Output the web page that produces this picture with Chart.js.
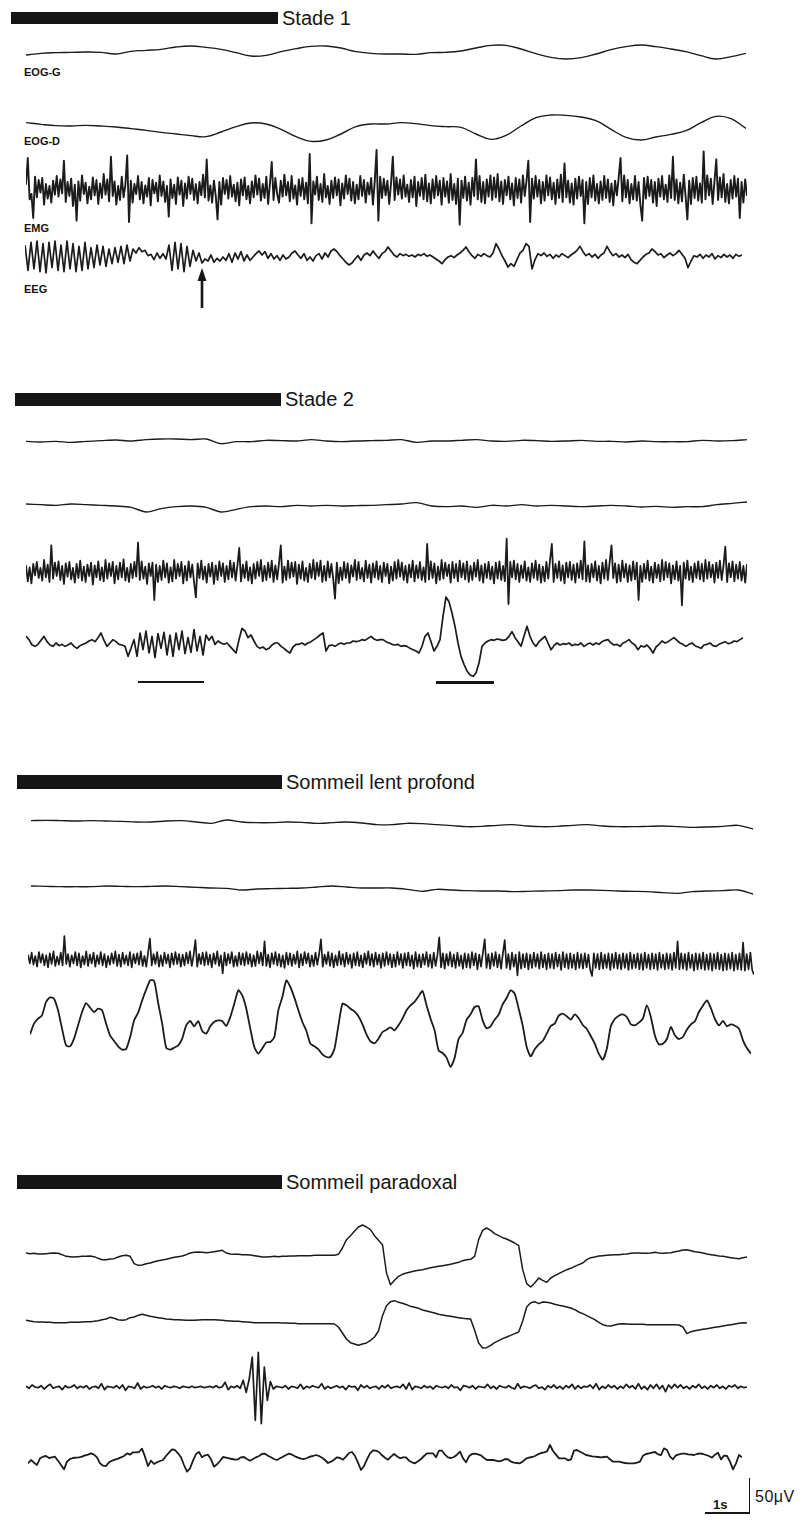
<!DOCTYPE html>
<html>
<head>
<meta charset="utf-8">
<script src="https://cdn.jsdelivr.net/npm/chart.js"></script>
<style>
  body { margin: 0; background: #fff; }
  #page { position: relative; width: 805px; height: 1521px; overflow: hidden;
          font-family: "Liberation Sans", Arial, sans-serif; color: #151515; }
  .bar { position: absolute; background: #151515; }
  .title { position: absolute; font-size: 20px; line-height: 20px; white-space: nowrap; }
  .lab { position: absolute; font-size: 11px; line-height: 11px; font-weight: bold; }
  .rule { position: absolute; background: #151515; }
  canvas { position: absolute; }
</style>
</head>
<body>
<div id="page">
  <div class="bar" style="left:11px;top:12px;width:267px;height:12px"></div>
  <div class="title" style="left:282px;top:8px">Stade 1</div>
  <div class="lab" style="left:24px;top:67px">EOG-G</div>
  <div class="lab" style="left:24px;top:136px">EOG-D</div>
  <div class="lab" style="left:24px;top:223px">EMG</div>
  <div class="lab" style="left:24px;top:284px">EEG</div>
  <svg style="position:absolute;left:195px;top:268px" width="14" height="42">
    <polygon points="7,0 2.5,13 11.5,13" fill="#151515"/>
    <rect x="5.7" y="11" width="2.6" height="29" fill="#151515"/>
  </svg>

  <div class="bar" style="left:15px;top:393px;width:266px;height:13px"></div>
  <div class="title" style="left:285px;top:389px">Stade 2</div>
  <div class="rule" style="left:138px;top:681px;width:66px;height:2px"></div>
  <div class="rule" style="left:436px;top:681px;width:58px;height:2.5px"></div>

  <div class="bar" style="left:17px;top:775px;width:265px;height:14px"></div>
  <div class="title" style="left:286px;top:772px">Sommeil lent profond</div>

  <div class="bar" style="left:17px;top:1175px;width:265px;height:14px"></div>
  <div class="title" style="left:286px;top:1172px">Sommeil paradoxal</div>

  <div class="rule" style="left:705px;top:1512px;width:45px;height:1.5px"></div>
  <div class="rule" style="left:748.5px;top:1478px;width:1.5px;height:35px"></div>
  <div class="lab" style="left:713px;top:1498px;font-size:13px;line-height:13px">1s</div>
  <div class="title" style="left:755px;top:1489px;font-size:16px;line-height:16px;letter-spacing:0.5px">50μV</div>
</div>

<script>
// traces, values in µV (positive up), sampled evenly along each 18 s strip

// Stade 1
var stade1EogG = [-4.5,-2,-1,-0.5,0,-0.5,-3,1,2.5,4,7.5,9,7,4,-1,-6,-5,0.5,5,8.5,
  9,6,0.5,-2,-3,-3,-3.5,-1,-0.5,1.5,6,10,10,4.5,-2.5,-8,-10.5,-8.5,-3,3.5,
  8,10.5,8,4.5,0.5,-5.5,-10.5,-7,-2];
var stade1EogD = [8,5.5,3.5,3,4,3,1.5,-1,-3.5,-6.5,-9,-11.5,-13,-6,2,7.5,6,-2,-13,-20,
  -18,-9,2,6,6,8,6.5,3.5,2,1,-9,-17,-11,3,15.5,19.5,19,16.5,11,-2,
  -14,-18,-13.5,-9.5,-4,8,17.5,14,-0.5];
var stade1Emg = [
  8,48,-14,-6,-42,20,-11,15,-4,18,-22,9,-13,6,-19,14,-7,21,-10,16,
  -5,44,-18,12,-9,17,-24,8,-46,13,-16,22,-6,11,-20,5,-14,19,-8,15,
  -21,10,-12,24,-7,16,-17,50,-9,13,-22,6,-15,20,-11,8,52,-48,14,-19,
  9,-6,21,-14,12,-20,7,-10,18,-23,15,-5,11,-17,22,-9,13,-18,6,-40,
  16,-12,8,-21,19,-7,14,-24,10,-13,20,-6,17,-15,9,-20,12,-8,23,-11,
  46,-16,7,-19,14,-9,-44,12,-22,18,-6,15,-13,21,-10,8,-17,11,-23,16,
  -8,19,-14,6,-20,13,-11,22,-7,17,-16,9,-12,20,-21,10,42,-15,18,-6,
  -19,14,-10,23,-8,12,-17,21,-13,7,-22,16,-9,18,-14,11,-20,54,-50,13,
  -7,20,-15,9,-18,24,-11,6,-21,14,-12,19,-8,16,-23,10,-13,22,-6,17,
  -16,12,-20,8,-14,21,-9,15,-19,11,-7,18,-22,13,60,-46,20,-12,17,-8,
  14,-21,10,50,-15,19,-7,16,-13,22,-10,8,-18,15,-11,20,-24,12,-9,18,
  -14,23,-17,10,-20,16,-12,21,-8,14,-22,18,-10,13,-19,24,-15,9,-21,17,
  -52,14,-12,20,-16,11,-22,18,-9,46,-14,21,-18,12,-20,16,-10,22,-15,19,
  -11,24,-17,13,-21,15,-8,20,-14,10,-23,18,-12,16,-19,22,-9,14,44,-48,
  17,-13,21,-10,15,-20,12,-16,22,-8,19,-14,11,-21,16,-12,23,-18,40,-11,
  14,-19,10,-22,17,-13,20,-9,15,-50,12,-21,18,-11,22,-16,9,-20,13,-15,
  21,-12,16,-18,10,-23,14,-8,19,48,-17,22,-11,15,-20,9,-14,21,-16,12,
  -22,-46,18,-13,20,-9,15,-19,12,-24,17,-10,21,-14,8,-18,22,-12,50,-15,
  16,-20,11,-17,23,-9,-44,14,-21,18,-12,20,-16,10,-19,58,-14,22,-8,17,
  -21,13,46,-15,19,-11,24,-18,9,-20,15,-13,21,-10,17,-42,12,-19,16,-9];
var stade1Eeg = [
  18,-20,22,-18,24,-22,20,-24,22,-16,24,-20,18,-22,24,-18,20,-22,16,-20,
  22,-18,14,-16,18,-12,16,-14,12,-10,14,-8,16,-10,18,-6,12,6,14,8,
  10,2,4,-4,6,-2,5,-3,18,-20,22,-18,20,-22,16,-14,10,-6,
  6,-9,-3,-6,3,-8,-2,-6,
  0,-5,5,-8,6,-3,8,-6,3,-5, 0,5,9,3,8,-2,5,-3,2,-5,
  3,-3,0,6,9,3,-2,5,-5,0, -6,2,5,-3,6,0,9,12,8,2,
  -3,-8,-12,-9,-3,2,-5,3,6,2, 9,3,-2,5,8,15,9,3,0,5,
  2,4,1,3,0,4,2,5,1,3, 0,-3,-6,-10,-4,0,2,-1,3,6,
  10,15,8,2,-2,4,1,5,2,0, 6,20,12,2,-6,-15,-10,-14,-4,6,
  10,20,16,-18,-4,5,2,6,1,4, -2,3,0,5,2,-1,3,6,10,16,
  8,2,5,0,4,-2,3,6,16,8, 2,5,0,3,-1,4,-4,-8,-10,-5,
  0,4,6,12,8,3,5,-1,3,6, 2,5,10,4,-2,-16,-6,2,0,4,
  -2,3,0,5,-3,2,-1,4,0,3,-2,4,1,3];

// Stade 2
var stade2EogG = [-0.5,-1.5,-0.5,-2,-0.5,0.5,1.5,0,2,3,3,2,3,-4,-1,-1,1,0.5,0,2,
  0,-1,0,0.5,1,2,-2,0,0,1,2,0,-0.5,1,0.5,-0.5,0,1,-0.5,-0.5,
  -1.5,0,-1,-1,-1,1,0,0.5,2];
var stade2EogD = [3,2,1,3,2,1,0,-2,-9,-4,-1,0,-2,-9,-5,-1,0,-1,1,0,
  1,0,0.5,1,2,3,5,0,-1,0,-2,1,0,2,0,1,0,-1,0,1,
  0,-1.5,-0.5,-2,-1,-1,2,4,6];
var stade2Emg = [
  10,-14,7,-17,12,-5,15,-9,6,-13,18,-8,11,-15,40,-10,14,-6,16,-12,
  9,-18,13,-7,15,-11,6,-16,12,-9,17,-13,8,-15,11,-6,14,-19,10,-8,
  16,-12,7,-14,18,-10,13,-6,15,-17,9,-11,14,-8,19,-13,6,-15,12,-9,
  15,-7,44,-12,16,-10,8,-18,13,-6,14,-42,11,-15,9,-12,17,-8,13,-16,
  7,-14,18,-10,12,-6,15,-17,9,-13,16,-8,11,-15,-38,13,-9,17,-11,8,
  -16,12,-7,14,-18,10,-12,16,-6,13,-15,9,-11,17,-8,14,-13,10,36,-14,
  11,-9,16,-13,7,-17,12,-10,15,-6,18,-14,9,-12,14,-8,17,-15,10,-11,
  13,40,-16,8,-12,17,-9,14,-7,15,-18,11,-10,16,-13,6,-15,12,-9,18,
  -11,14,-6,17,-15,9,-13,16,-8,12,-10,-40,14,-17,7,-12,15,-9,13,-16,
  10,-7,18,-12,15,-10,6,-14,17,-9,11,-16,13,-8,16,-11,9,-15,14,-6,
  12,-17,8,-13,15,-10,18,-7,14,-12,9,-16,11,-8,17,-14,10,-9,15,-12,
  7,-15,42,-11,16,-9,13,-17,8,-12,18,-10,14,-6,11,-16,15,-9,12,-14,
  17,-8,13,-11,16,-15,9,-12,14,-7,18,-13,10,-16,12,-9,15,-11,8,-17,
  14,-10,16,-12,9,-14,50,-48,15,-8,17,-11,12,-15,10,-9,16,-13,7,-15,
  13,-9,17,-12,11,-16,8,-14,15,-10,18,42,-15,12,-9,16,-13,10,-17,14,
  -8,15,-12,11,-16,13,-9,17,-11,46,-14,10,-15,12,-8,16,-13,9,-17,14,
  -10,18,-12,15,40,-9,13,-16,11,-14,17,-8,12,-15,10,-13,16,-11,14,-42,
  9,-15,12,-10,17,-13,8,-16,14,-9,11,-14,18,-12,15,-8,13,-17,10,-11,
  16,-13,9,-50,14,-10,17,-12,8,-15,13,-9,16,-11,12,-14,18,-10,15,-8,
  11,-16,14,-9,17,-12,10,38,-15,13,-8,16,-14,11,-10,15,-13,9,-16,12];
var stade2Eeg = [
  10,5,-3,-5,-2,4,10,2,-3,-5, 0,-4,-2,-5,-3,0,-5,-8,-4,-2,
  0,3,5,2,8,15,4,-5,0,5, 2,-2,-3,-5,-20,-8,5,-20,15,-10,
  18,-15,10,-22,14,-8,16,-18,12,-20, 15,-10,18,-16,8,-14,20,-12,10,-18,
  12,4,10,-2,3,0,-2,0,-5,-10, -15,5,22,18,8,12,3,-5,-8,-6,
  -10,-8,-3,0,0,-5,-8,-12,-15,-6, -2,-2,0,-3,0,2,5,8,12,15,
  -12,-4,-3,-5,-2,0,-2,0,0,3, 2,3,5,4,7,10,6,4,5,5,
  2,0,-2,-3,-2,-5,-4,-5,-8,-10, -12,-15,-5,10,15,2,-12,-5,5,40,
  69,62,45,25,0,-20,-32,-42,-48,-50, -45,-30,-5,0,3,5,4,6,5,4,
  5,10,17,8,2,-5,10,25,10,0, -5,2,6,10,0,-10,-4,0,-3,-1,
  -2,0,-4,-2,-3,0,-5,-2,0,-3, 0,-2,2,4,5,0,-3,-2,-5,0,
  2,5,0,-3,-10,-4,-6,-3,-8,-15, -6,-2,3,0,2,5,8,4,0,-2,
  -5,-2,0,-4,-6,-8,-3,-2,0,-4, -5,-2,0,2,-1,0,3,2,5,8];

// Sommeil lent profond
var slpEogG = [5,5.5,5,4.5,5,4.5,4,3,3,4.5,5,3,1,6,3,2,2,3,2.5,1,
  2,3,1.5,-1,-1,1,0.5,-1,-2.5,-4,-3.5,-2,-1,-3,-4,-3.5,-2,-1,-3,-4,
  -4,-3.5,-3,-4,-5,-4.5,-3.5,-2,-7.5];
var slpEogD = [4.5,4,3.5,3.5,3.5,4.5,4,3.5,4,4.5,3.5,2.5,1.5,1,-1.5,0,0.5,1,1.5,3,
  4.5,3,1.5,1.5,1.5,-0.5,-3.5,-0.5,-1.5,-2.5,-3,-3,-4,-3.5,-3,-2.5,-1.5,-1.5,-2,-3,
  -3.5,-4,-5.5,-6.5,-4,-3,-2.5,-1.5,-7.5];
var slpEmg = [
  8,-5,11,-7,6,-10,12,-4,9,-8,7,-11,10,-6,13,-9,5,-7,11,-8,
  36,-6,9,-10,7,-5,12,-8,10,-11,6,-7,13,-9,8,-5,11,-10,7,-6,
  12,-8,9,-11,6,-7,10,-5,13,-9,8,-10,11,-6,7,-8,12,-11,9,-5,
  10,-7,13,-9,6,-10,11,32,-8,9,-6,12,-10,7,-9,11,-5,8,-11,10,
  -7,12,-6,9,-10,8,-8,11,-5,13,-9,7,30,-10,9,-6,11,-8,12,-7,
  8,-11,10,-6,13,-9,7,-20,11,-8,9,-5,12,-10,6,-9,11,-7,10,-8,
  12,-6,9,-10,7,-9,13,-5,11,-8,28,-9,8,-11,10,-6,12,-8,9,-10,
  7,-12,11,-7,10,-9,8,-6,13,-11,9,-8,12,-5,10,-10,7,-9,11,-7,
  9,31,-10,8,-6,12,-9,10,-11,7,-8,13,-7,9,-10,11,-6,8,-12,10,
  -8,12,-9,7,-11,10,-6,13,-8,9,-10,11,-7,8,-12,10,-9,12,-7,9,
  -11,8,-10,12,-7,9,-12,10,-8,11,-9,7,-13,12,-10,8,-11,9,-7,12,
  -10,8,-12,11,-9,7,34,-11,10,-13,9,-8,12,-10,8,-12,11,-9,7,-13,
  10,-11,9,-12,12,-8,10,-14,8,-10,11,31,-12,9,-13,10,-9,12,-11,8,
  -13,10,30,-12,9,-14,11,-10,8,-23,12,-13,9,-11,10,-14,8,-12,11,-10,
  9,-13,12,-11,8,-14,10,-12,9,-13,11,-10,8,-15,12,-11,9,-13,10,-12,
  8,-14,11,-12,9,-13,10,-11,8,-15,-24,10,-12,9,-14,11,-13,8,-12,10,
  -15,9,-12,11,-13,8,-14,10,-12,9,-15,11,-13,8,-12,10,-14,9,-15,11,
  -12,8,-14,10,-13,9,-15,11,-12,8,-14,10,-13,9,-15,11,-12,28,-14,10,
  -13,9,-15,11,-12,8,-16,10,-14,9,-13,11,-15,8,-14,10,-16,9,-13,11,
  -14,8,-16,10,-15,9,-13,11,-16,8,-14,10,-15,26,-16,9,-14,11,-15,-22];
var slpEeg = [
  -11,5,12.5,17.5,37.5,44.5,42.5,25,-2.5,-27.5, -29,-17.5,2.5,22.5,36,29,22.5,27.5,25,5,
  -13,-21,-29,-34,-33,-15,10,21.5,40,56, 70,69,36,5,-31,-34,-31,-27.5,-17.5,2.5,
  9,1,9,-6,-10,1,8,10,9,1.5, 15,35,55,47.5,27.5,-2.5,-30,-40,-32,-23,
  -22.5,-15,25,45,70,60,44,25,7.5,-6, -25,-29,-33.5,-41,-45,-45,-33,2.5,35,32.5,
  27.5,23.5,16,4,-11,-21.5,-24.5,-17.5,-7.5,-4, -0.5,-5,2.5,12.5,25,32.5,37.5,46,54,32.5,
  12.5,-5,-35,-39,-46,-60,-46.5,-18,-9,11, 19,30,31,10,-2,1,11,18.5,34,43.5,
  55,50,27.5,2.5,-30,-44,-33.5,-26,-21,-10, 1.5,5,17,20,16,11,19,13,3,-3,
  -13.5,-25,-40,-49,-32.5,1,12,17,19,15, 4,2.5,6.5,12.5,32.5,15,-12.5,-26,-25,-18,
  0,-12.5,-18,-15,-4,4,8.5,22.5,32,40, 28,12,2.5,9,1,4,2,-2.5,-20,-32,
  -40];

// Sommeil paradoxal
var spEogG = [
  1.5,0.5,1,0,0,0.5,1,1.5,1,-1, -3.5,-4,-4.5,-4,-3.5,-3.5,-3,-4,-6.5,-8.5,
  -8.5,-7.5,-7,-4.5,-2.5,-2,-3.5,-14.5,-17,-16.5, -14.5,-13.5,-11.5,-10,-9,-8,-6.5,-5,-4,-3,
  -1,1.5,2.5,3,2.5,2,2.5,3.5,4.5,5.5, 1.5,0,-0.5,-0.5,-1,-1,-1.5,-2.5,-3.5,-4.5,
  -4.5,-4,-3.5,-4,-3.5,-3.5,-3,-3,-2.5,-2.5, -2.5,-2.5,-2,-2,-2,-2,-2,-2,-0.5,9,
  21.5,27.5,34,40.5,43.5,40.5,36.5,27.5,20.5,14, -28.5,-46,-39.5,-33.5,-30.5,-28.5,-27,-25.5,-24.5,-23.5,
  -22,-20.5,-19.5,-18.5,-17.5,-16.5,-15.5,-14,-12.5,-10, -8.5,-8,-3.5,21.5,35.5,39,35.5,30.5,27.5,24.5,
  22.5,19.5,16.5,12.5,-23.5,-44.5,-49.5,-43.5,-36,-39.5, -42.5,-36,-32.5,-29.5,-26.5,-23.5,-21.5,-18.5,-16,-13.5,
  -8.5,-5.5,-4.5,-3,-2.5,-2,-1.5,-1,-1,-0.5, 0,1,1.5,1.5,1,1,1.5,2.5,1.5,1,
  1.5,2,3.5,4.5,6,6.5,5,3.5,2.5,1.5, 0,-1,-2,-3,-3.5,-4.5,-5.5,-6.5,-7,-5.5,
  -4.5];
var spEogD = [
  2.5,1.5,0.5,0,0,-0.5,-0.5,-1,-1,-1, -1,-0.5,-0.5,-0.5,0,0.5,0.5,1,2,3.5,
  4.5,7,5.5,3.5,2.5,3.5,6.5,7.5,10,11.5, 10,8.5,7.5,6.5,5.5,4.5,4,3.5,3.5,3,
  2.5,2.5,2.5,3,3.5,3.5,3.5,3.5,3,2.5, 2,1.5,1,1,0.5,0,-0.5,-1,-1,-1,
  -1,-1,-1,-1,-1.5,-1.5,-2,-2,-2.5,-2.5, -2.5,-2.5,-2.5,-2.5,-2.5,-2.5,-2.5,-3,-7.5,-16.5,
  -25.5,-31,-33,-35,-33,-31.5,-27.5,-22.5,-13.5,9.5, 24.5,30.5,32,29.5,28,26,23.5,22,20.5,18,
  16.5,15,13.5,11.5,10.5,9.5,8.5,7.5,6.5,5.5, 5,4.5,-12.5,-31.5,-39,-38.5,-35,-31,-28,-25,
  -22.5,-20,-17.5,-15,1.5,22.5,29,30.5,27.5,30, 29.5,28.5,26.5,25,24,22.5,21,18.5,15,12.5,
  9.5,6.5,3.5,-0.5,-4,-5.5,-6,-4.5,-3,-2.5, -3,-3.5,-3.5,-3.5,-3.5,-4,-4,-4,-4,-4,
  -4,-4,-4,-4.5,-7.5,-17.5,-14.5,-13,-12,-11, -10,-9,-8,-7,-6,-5,-4,-3,-2,-1,
  -1.5];
var spEmg = [
  1,-2,3,0,-1,2,-3,1,4,-2,0,1,-4,2,-1,0,3,-2,1,-1,
  2,-3,0,1,-2,5,-4,1,0,-1,2,-2,3,-5,1,0,-2,6,-3,1,
  -1,0,2,-1,1,-3,2,0,-1,1,0,-2,1,0,-1,1,-1,0,1,-1,
  0,1,-1,2,-1,0,7,-4,1,-1,2,-2,10,-8,12,45,-50,52,-55,30,
  -20,8,-3,1,0,-1,2,-3,1,0,-2,4,-3,1,-1,2,0,-1,5,-3,
  1,-2,0,2,-1,1,-4,2,0,1,-5,3,-1,2,-2,0,1,-3,2,-1,
  3,-2,0,1,-1,4,-3,6,-4,1,0,-2,2,-1,1,-3,2,0,-1,1,
  -2,3,-1,0,-5,2,1,-1,2,-3,1,0,-1,4,-2,1,-3,2,0,-1,
  2,-1,-3,5,-2,1,0,-2,1,3,-2,0,-4,2,-1,3,-2,1,-3,2,
  -1,4,-3,2,-2,1,0,3,-2,5,-4,1,-2,3,-1,2,-3,1,-2,4,
  -1,2,-3,5,-3,1,-4,3,-2,4,-3,2,-7,3,-2,4,-1,3,-2,1,
  -3,2,-1,4,-2,1,-3,2,-1,3,-2,1,-3,2,0,3,-2,1,-1,0];
var spEeg = [
  -5,0,-4,-7.5,2.5,5,6,3,4,5, -1,-7.5,-14,-2.5,1.5,3,3.5,4,5,7,
  8,10,8,4,-5,-8.5,-9,-3.5,-1,0.5, 2,4,6,10,8,11.5,11.5,12,17,5,
  -9,-1,-6,-3.5,-1.5,0,6,11,16,15, 10,4,-7.5,-17.5,-12.5,-1,9,12,4,7,
  8,1,-10,-6.5,-1.5,4.5,3.5,2.5,1.5,0.5, 1,4,4.5,1.5,-1,1.5,4,6,9,9.5,
  6.5,4,1.5,0,2.5,5,7.5,9.5,8,5.5, 3.5,2,1.5,3,5,6,7.5,6,3.5,0,
  -4.5,-2.5,0.5,4,3,0.5,5,10.5,12,6, -4,-15,-9,1,10,14.5,14,12,7,3.5,
  0.5,5,9,5.5,2.5,4,4,-1,-3.5,-5, -2,1.5,6,10,10,10,4,14,14,8,
  4,3,4.5,8,12.5,2.5,-3.5,5.5,9,9.5, 8.5,7,3,0,0,0,-1,-2,-1,1.5,
  1,-2.5,-4,-4.5,-5,-2,2,3.5,4.5,6, 8.5,10.5,11.5,13,22.5,13.5,8,2.5,2.5,2.5,
  -0.5,1,14,15,12.5,10,7.5,6.5,5.5,5, 4.5,4,4.5,5,1,-2.5,-2.5,-2.5,-3.5,-4.5,
  -5,-5,-5,-4,-2.5,6.5,9,10,11,12, 8.5,7.5,17.5,15,5,1,7,8.5,9.5,9.5,
  8.5,8,7.5,9,10,9,7.5,6,3.5,8, 11,1,6.5,6,-2.5,-14,-5,7.5,4];

// where each strip sits on the page
var UV_PER_PX = 1.5;
var STRIP_H = 160;
var strips = [
  { data: stade1EogG, left: 26, right: 746, mid: 52,   lw: 1.4, tension: 0.4 },
  { data: stade1EogD, left: 26, right: 746, mid: 128,  lw: 1.4, tension: 0.4 },
  { data: stade1Emg,  left: 26, right: 747, mid: 190,  lw: 1.9, tension: 0 },
  { data: stade1Eeg,  left: 25, right: 742, mid: 257,  lw: 1.7, tension: 0 },
  { data: stade2EogG, left: 26, right: 747, mid: 441,  lw: 1.4, tension: 0.3 },
  { data: stade2EogD, left: 26, right: 747, mid: 506,  lw: 1.4, tension: 0.3 },
  { data: stade2Emg,  left: 26, right: 747, mid: 572,  lw: 1.8, tension: 0 },
  { data: stade2Eeg,  left: 26, right: 743, mid: 643,  lw: 1.7, tension: 0 },
  { data: slpEogG,    left: 31, right: 753, mid: 824,  lw: 1.4, tension: 0.3 },
  { data: slpEogD,    left: 31, right: 753, mid: 889,  lw: 1.4, tension: 0.3 },
  { data: slpEmg,     left: 28, right: 754, mid: 960,  lw: 1.7, tension: 0 },
  { data: slpEeg,     left: 30, right: 751, mid: 1027, lw: 1.8, tension: 0.2 },
  { data: spEogG,     left: 26, right: 747, mid: 1254, lw: 1.5, tension: 0 },
  { data: spEogD,     left: 26, right: 747, mid: 1322, lw: 1.5, tension: 0 },
  { data: spEmg,      left: 26, right: 747, mid: 1387, lw: 1.7, tension: 0 },
  { data: spEeg,      left: 28, right: 742, mid: 1460, lw: 1.8, tension: 0 }
];

var page = document.getElementById('page');
var half = STRIP_H / 2 * UV_PER_PX;

strips.forEach(function (s) {
  var cv = document.createElement('canvas');
  cv.width = s.right - s.left;
  cv.height = STRIP_H;
  cv.style.left = s.left + 'px';
  cv.style.top = (s.mid - STRIP_H / 2) + 'px';
  page.appendChild(cv);

  new Chart(cv.getContext('2d'), {
    type: 'line',
    data: {
      labels: s.data.map(function (v, i) { return i; }),
      datasets: [{
        data: s.data,
        borderColor: '#1b1b1b',
        borderWidth: s.lw,
        pointRadius: 0,
        tension: s.tension,
        borderJoinStyle: 'round',
        clip: false
      }]
    },
    options: {
      responsive: false,
      animation: false,
      events: [],
      layout: { padding: 0 },
      plugins: { legend: { display: false }, tooltip: { enabled: false } },
      scales: {
        x: { display: false },
        y: { display: false, min: -half, max: half }
      }
    }
  });
});
</script>
</body>
</html>
